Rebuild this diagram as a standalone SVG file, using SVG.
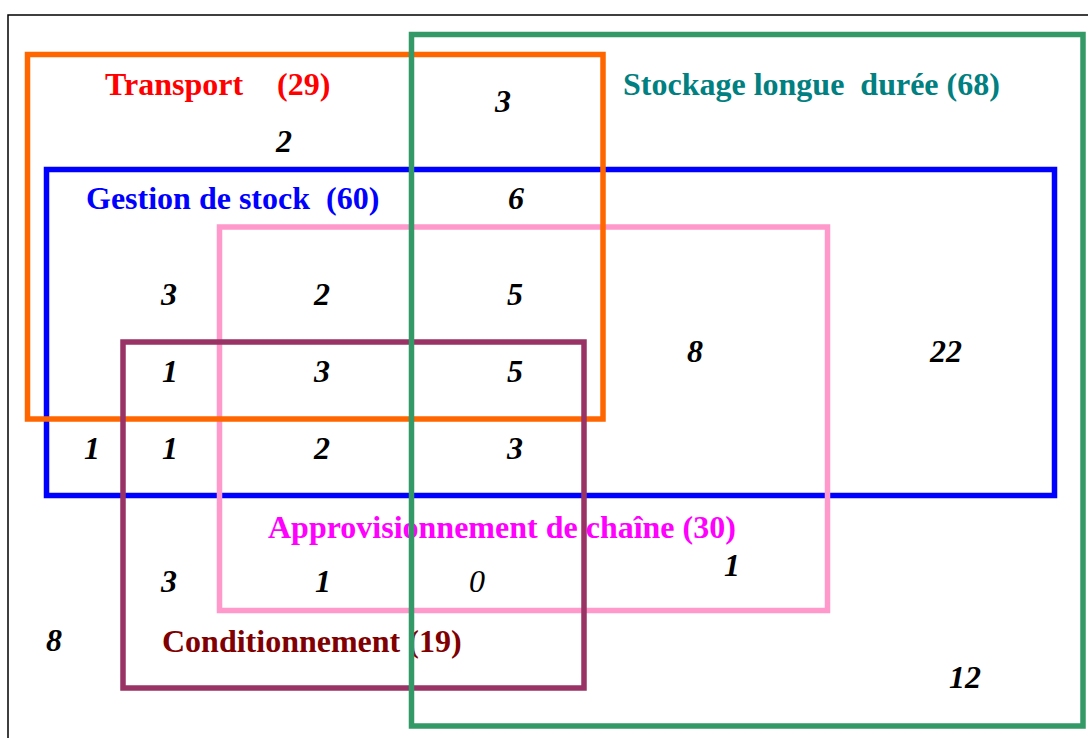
<svg xmlns="http://www.w3.org/2000/svg" width="1088" height="738" viewBox="0 0 1088 738">
<style>
.set{fill:none;stroke-width:5.5}
.lbl{font-family:"Liberation Serif","Times New Roman",serif;font-weight:bold;font-size:32px}
.num{font-family:"Liberation Serif","Times New Roman",serif;font-weight:bold;font-style:italic;font-size:32px;fill:#000;text-anchor:middle}
.num0{font-family:"Liberation Serif","Times New Roman",serif;font-style:italic;font-size:32px;fill:#000;text-anchor:middle}
</style>
<rect x="0" y="0" width="1088" height="738" fill="#fff"/>
<rect id="frame" x="8" y="15" width="1100" height="800" fill="none" stroke="#000" stroke-width="1.5"/>
<g id="gestion-de-stock">
<rect class="set" x="46.5" y="169.5" width="1008" height="326" stroke="#0000FF"/>
<text class="lbl" x="86" y="209" fill="#0000FF" xml:space="preserve">Gestion de stock  (60)</text>
</g>
<g id="approvisionnement">
<rect class="set" x="219.5" y="227" width="608" height="383.5" stroke="#FF99CC"/>
<text class="lbl" x="268" y="538" fill="#FF00FF">Approvisionnement de chaîne (30)</text>
</g>
<g id="transport">
<rect class="set" x="27.5" y="54.5" width="575.5" height="364.5" stroke="#FF6600"/>
<text class="lbl" y="95" fill="#FF0000"><tspan x="105">Transport</tspan><tspan x="277">(29)</tspan></text>
</g>
<g id="conditionnement">
<rect class="set" x="123" y="342" width="461" height="346" stroke="#993366"/>
<text class="lbl" x="162" y="652" fill="#800000">Conditionnement (19)</text>
</g>
<g id="stockage-longue-duree">
<rect class="set" x="411.5" y="34.5" width="671.5" height="691.5" stroke="#339966"/>
<text class="lbl" x="623" y="95" fill="#008080" xml:space="preserve">Stockage longue  durée (68)</text>
</g>
<g id="connectors"/>
<g id="counts">
<text class="num" x="284" y="152">2</text>
<text class="num" x="503" y="112">3</text>
<text class="num" x="516" y="209">6</text>
<text class="num" x="169" y="305">3</text>
<text class="num" x="322" y="305">2</text>
<text class="num" x="515" y="305">5</text>
<text class="num" x="170" y="382">1</text>
<text class="num" x="322" y="382">3</text>
<text class="num" x="515" y="382">5</text>
<text class="num" x="695" y="362">8</text>
<text class="num" x="946" y="362">22</text>
<text class="num" x="92" y="459">1</text>
<text class="num" x="170" y="459">1</text>
<text class="num" x="322" y="459">2</text>
<text class="num" x="515" y="459">3</text>
<text class="num" x="732" y="576">1</text>
<text class="num" x="169" y="592">3</text>
<text class="num" x="323" y="592">1</text>
<text class="num0" x="477" y="592">0</text>
<text class="num" x="54" y="651">8</text>
<text class="num" x="965" y="688">12</text>
</g>
</svg>
